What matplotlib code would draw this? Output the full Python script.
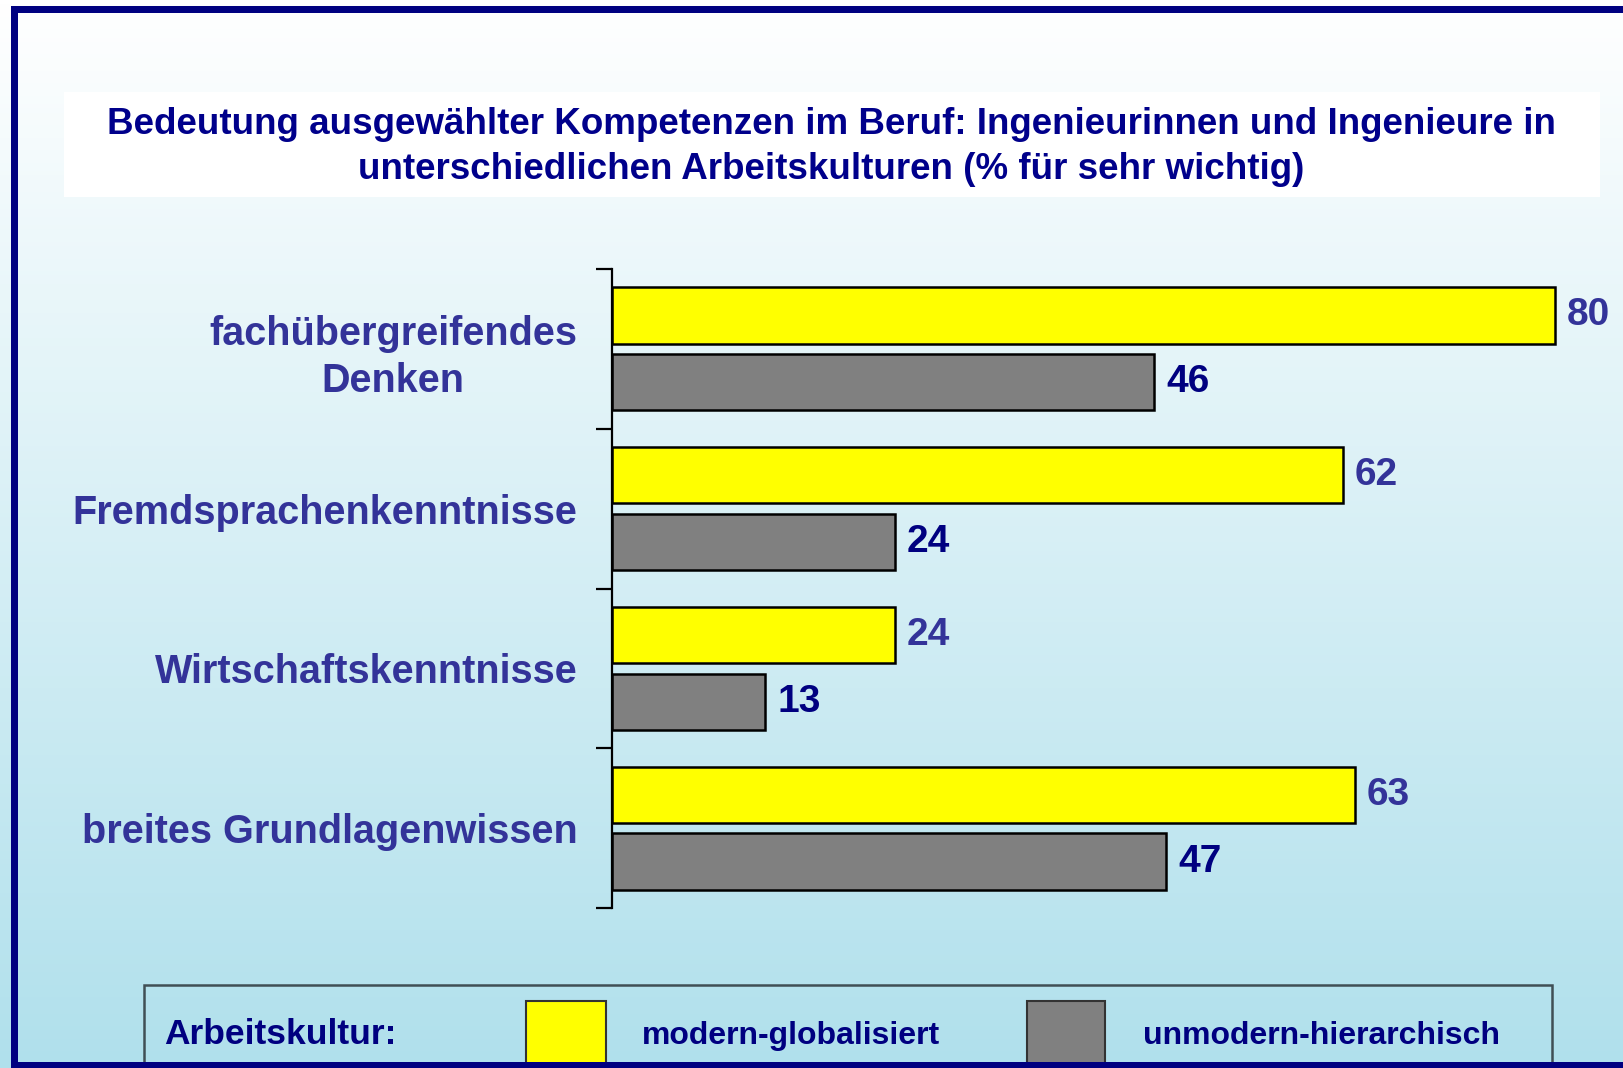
import numpy as np
import matplotlib
matplotlib.use("Agg")
import matplotlib.pyplot as plt
from matplotlib.patches import Rectangle

# data
categories = ["fachübergreifendes\nDenken", "Fremdsprachenkenntnisse",
              "Wirtschaftskenntnisse", "breites Grundlagenwissen"]
modern = [80, 62, 24, 63]
unmodern = [46, 24, 13, 47]
series_names = ["modern-globalisiert", "unmodern-hierarchisch"]
title = ("Bedeutung ausgewählter Kompetenzen im Beruf: Ingenieurinnen und Ingenieure in\n"
         "unterschiedlichen Arbeitskulturen (% für sehr wichtig)")

W, H = 1623, 1068
NAVY = "#000080"
SLATE = "#333399"
plt.rcParams["font.family"] = ["Liberation Sans", "DejaVu Sans"]
plt.rcParams["font.weight"] = "bold"

fig = plt.figure(figsize=(W / 100, H / 100), dpi=100)


def fx(px):
    return px / W


def fy(py):
    return 1 - py / H


# background gradient
bg = fig.add_axes([0, 0, 1, 1], zorder=-10)
top = np.array([1.0, 1.0, 1.0])
bot = np.array([176, 224, 236]) / 255
t = np.linspace(0, 1, 256)[:, None]
grad = (top * (1 - t) + bot * t)[:, None, :]
bg.imshow(grad, aspect="auto", extent=[0, 1, 0, 1], origin="upper")
bg.set_xlim(0, 1)
bg.set_ylim(0, 1)
bg.axis("off")

# white title box
fig.patches.append(Rectangle((fx(64), fy(197)), fx(1600) - fx(64), fy(92) - fy(197),
                             transform=fig.transFigure, facecolor="white",
                             edgecolor="none", zorder=-5))
fig.text(fx(831), fy(147), title, ha="center", va="center", fontsize=26.5,
         color="#00008B", fontweight="bold", linespacing=1.38)

# main axes
ax_left, ax_top, ax_bot = 612, 269, 908
xmax = 85
ax_w = xmax * 11.79
ax = fig.add_axes([fx(ax_left), fy(ax_bot), fx(ax_w), fy(ax_top) - fy(ax_bot)])
ax.patch.set_visible(False)

y = np.arange(len(categories))
h = 0.353
off = 0.209
ax.barh(y - off, modern, height=h, color="#FFFF00", edgecolor="black", linewidth=1.8)
ax.barh(y + off, unmodern, height=h, color="#808080", edgecolor="black", linewidth=1.8)

for yi, v in zip(y, modern):
    ax.text(v + 1.0, yi - off, str(v), ha="left", va="center", fontsize=28,
            color=SLATE, fontweight="bold", clip_on=False)
for yi, v in zip(y, unmodern):
    ax.text(v + 1.0, yi + off, str(v), ha="left", va="center", fontsize=28,
            color=NAVY, fontweight="bold", clip_on=False)

ax.set_xlim(0, xmax)
ax.set_ylim(len(categories) - 0.5, -0.5)
ax.set_yticks(y)
ax.set_yticklabels(categories, fontsize=28.5, color=SLATE, fontweight="bold",
                   multialignment="center", linespacing=1.3)
ax.set_yticks(np.arange(len(categories) + 1) - 0.5, minor=True)
ax.tick_params(axis="y", which="major", length=0, pad=25)
ax.tick_params(axis="y", which="minor", length=11.5, width=1.6, color="black")
ax.set_xticks([])
for s in ["top", "right", "bottom"]:
    ax.spines[s].set_visible(False)
ax.spines["left"].set_linewidth(1.6)

# legend
fig.patches.append(Rectangle((fx(144), fy(1080)), fx(1552) - fx(144), fy(985) - fy(1080),
                             transform=fig.transFigure, facecolor="none",
                             edgecolor="#404f55", linewidth=1.8, zorder=2))
fig.text(fx(164), fy(1035), "Arbeitskultur:", ha="left", va="center", fontsize=25.5,
         color=NAVY, fontweight="bold")
fig.patches.append(Rectangle((fx(526), fy(1075)), fx(606) - fx(526), fy(1001) - fy(1075),
                             transform=fig.transFigure, facecolor="#FFFF00",
                             edgecolor="#333333", linewidth=1.5, zorder=2))
fig.patches.append(Rectangle((fx(1027), fy(1075)), fx(1105) - fx(1027), fy(1001) - fy(1075),
                             transform=fig.transFigure, facecolor="#808080",
                             edgecolor="#333333", linewidth=1.5, zorder=2))
fig.text(fx(642), fy(1036), series_names[0], ha="left", va="center", fontsize=23,
         color=NAVY, fontweight="bold")
fig.text(fx(1143), fy(1036), series_names[1], ha="left", va="center", fontsize=23,
         color=NAVY, fontweight="bold")

# navy frame
for (x0, y0, x1, y1) in [(11, 6, W, 13), (11, 6, 18, H), (11, 1062, W, H)]:
    fig.patches.append(Rectangle((fx(x0), fy(y1)), fx(x1) - fx(x0), fy(y0) - fy(y1),
                                 transform=fig.transFigure, facecolor=NAVY,
                                 edgecolor="none", zorder=5))

fig.savefig("out.png", dpi=100)
